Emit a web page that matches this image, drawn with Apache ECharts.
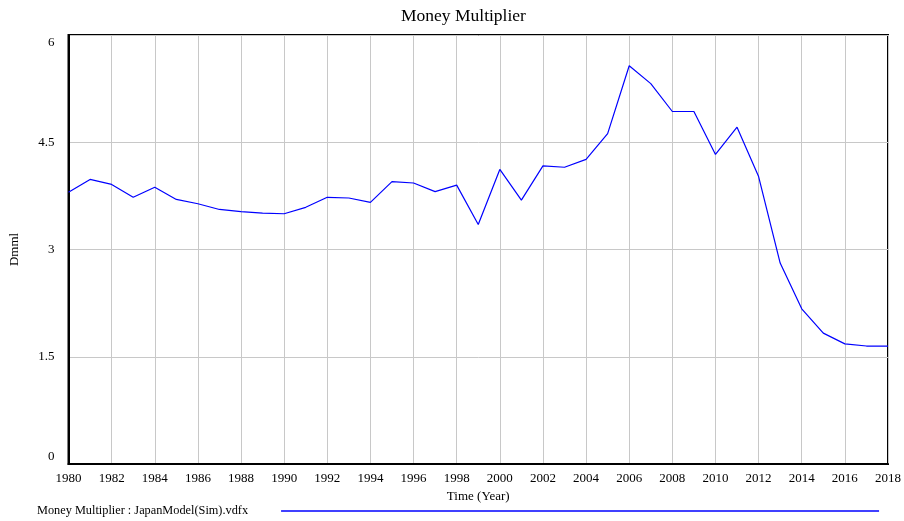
<!DOCTYPE html>
<html>
	<head>
		<meta charset="UTF-8">
		<title>Money Multiplier</title>
		<script src="https://cdn.jsdelivr.net/npm/echarts@6/dist/echarts.min.js"></script>
		<style>
			html,
			body {
				width: 100%;
				height: 100%;
				margin: 0;
				padding: 0;
				background: #ffffff;
			}

			#chart {
				width: 904px;
				height: 521px;
			}
		</style>
	</head>
	<body>
		<div id="chart"></div>
	</body>
	<script>
		var years = [1980, 1981, 1982, 1983, 1984, 1985, 1986, 1987, 1988, 1989,
			1990, 1991, 1992, 1993, 1994, 1995, 1996, 1997, 1998, 1999,
			2000, 2001, 2002, 2003, 2004, 2005, 2006, 2007, 2008, 2009,
			2010, 2011, 2012, 2013, 2014, 2015, 2016, 2017, 2018];
		var multiplier = [3.80, 3.98, 3.91, 3.73, 3.87, 3.70, 3.64, 3.56, 3.53, 3.51,
			3.50, 3.59, 3.73, 3.72, 3.66, 3.95, 3.93, 3.81, 3.90, 3.35,
			4.12, 3.69, 4.17, 4.15, 4.26, 4.62, 5.57, 5.32, 4.93, 4.93,
			4.33, 4.71, 4.02, 2.81, 2.17, 1.83, 1.68, 1.65, 1.65];
		var seriesName = 'Money Multiplier : JapanModel(Sim).vdfx';

		var font = '"Liberation Serif", "Times New Roman", serif';
		var myChart = echarts.init(document.getElementById('chart'));

		var points = [];
		for(var i = 0; i < years.length; i++) {
			points.push([years[i], multiplier[i]]);
		}

		var option = {
			animation: false,
			title: {
				text: 'Money Multiplier',
				left: 401,
				top: 7,
				padding: 0,
				textStyle: {
					fontFamily: font,
					fontWeight: 'normal',
					fontSize: 17.5,
					color: '#000'
				}
			},
			legend: {
				left: 37,
				top: 505,
				align: 'right',
				itemWidth: 598,
				itemHeight: 1.4,
				itemGap: 0,
				padding: 0,
				textStyle: {
					fontFamily: font,
					fontSize: 12.3,
					color: '#000',
					padding: [0, 28, 0, 5]
				},
				data: [{
					name: seriesName,
					icon: 'rect'
				}]
			},
			grid: {
				left: 68.5,
				right: 14.5,
				top: 35,
				bottom: 57,
				show: true,
				borderColor: '#000',
				borderWidth: 2
			},
			xAxis: {
				type: 'value',
				min: 1980,
				max: 2018,
				interval: 2,
				name: 'Time (Year)',
				nameLocation: 'middle',
				nameGap: 19,
				nameTextStyle: {
					fontFamily: font,
					fontSize: 13,
					color: '#000'
				},
				axisLine: {
					lineStyle: {
						color: '#000',
						width: 2
					}
				},
				axisTick: {
					show: false
				},
				axisLabel: {
					fontFamily: font,
					fontSize: 13,
					color: '#000',
					margin: 8,
					formatter: function(v) {
						return String(v);
					}
				},
				splitLine: {
					show: true,
					lineStyle: {
						color: '#c8c8c8',
						width: 1
					}
				}
			},
			yAxis: {
				type: 'value',
				min: 0,
				max: 6,
				interval: 1.5,
				name: 'Dmml',
				nameLocation: 'middle',
				nameGap: 47,
				nameTextStyle: {
					fontFamily: font,
					fontSize: 13,
					color: '#000'
				},
				axisLine: {
					lineStyle: {
						color: '#000',
						width: 2
					}
				},
				axisTick: {
					show: false
				},
				axisLabel: {
					fontFamily: font,
					fontSize: 13,
					color: '#000',
					margin: 14,
					formatter: function(v) {
						if(v === 6) return '{top|6}';
						if(v === 0) return '{bot|0}';
						return String(v);
					},
					rich: {
						top: {
							fontFamily: font,
							fontSize: 13,
							color: '#000',
							padding: [16, 0, 0, 0]
						},
						bot: {
							fontFamily: font,
							fontSize: 13,
							color: '#000',
							padding: [0, 0, 14, 0]
						}
					}
				},
				splitLine: {
					show: true,
					lineStyle: {
						color: '#c8c8c8',
						width: 1
					}
				}
			},
			series: [{
				name: seriesName,
				type: 'line',
				data: points,
				symbol: 'none',
				lineStyle: {
					color: '#0000ff',
					width: 1.2
				},
				itemStyle: {
					color: '#0000ff'
				}
			}]
		};
		myChart.setOption(option);
	</script>
</html>
